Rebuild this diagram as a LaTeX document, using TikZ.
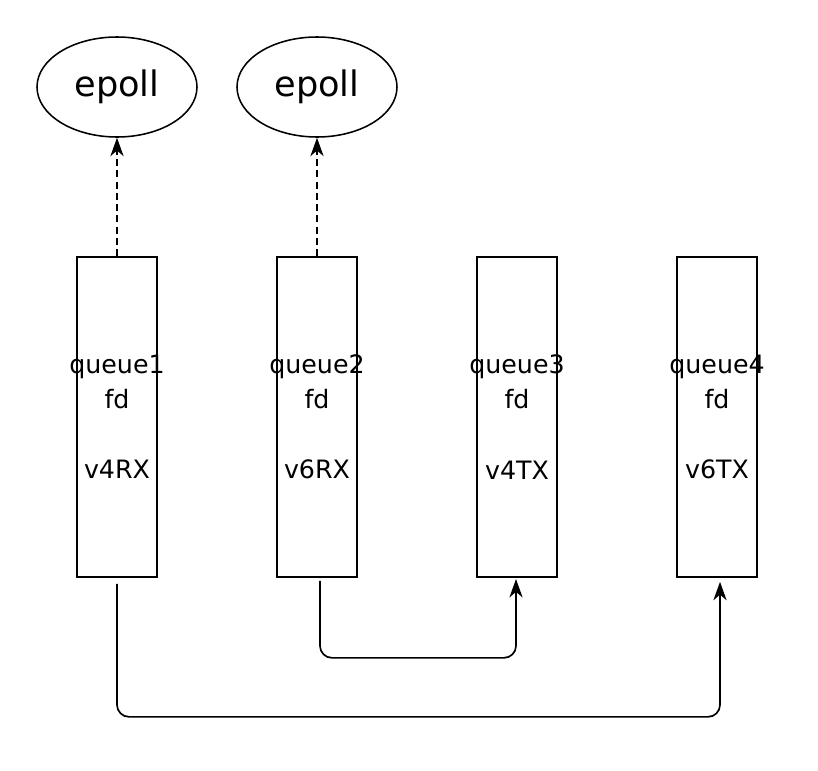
\documentclass[tikz,border=0pt]{standalone}
\usepackage{fontspec}
\setmainfont{DejaVu Sans}
\usetikzlibrary{arrows.meta,shapes.geometric}
\newcommand{\qline}[1]{\makebox[0pt]{#1}}

\tikzset{
  queuebox/.style={draw,line width=1.2pt,rectangle,minimum width=2cm,minimum height=8cm,
                   inner sep=0pt,align=center,font=\fontsize{18}{25}\selectfont},
  epollnode/.style={draw,line width=1.1pt,ellipse,minimum width=4cm,minimum height=2.5cm,
                    inner sep=0pt,font=\fontsize{25}{29}\selectfont},
  notify/.style={line width=1.2pt,dash pattern=on 5pt off 3pt,-{Stealth[length=4.6mm,width=3.3mm,inset=1.4mm]}},
  forward/.style={line width=1.2pt,rounded corners=0.3cm,-{Stealth[length=4.6mm,width=3.3mm,inset=1.4mm]}}
}

\begin{document}
\begin{tikzpicture}[>=Stealth]
  \useasboundingbox (0,0) rectangle (20.45,-19.25);
  % queues
  \node[queuebox] (q1) at (2.925,-10.425) {\qline{queue1}\\\qline{fd}\\[25pt]\qline{v4RX}};
  \node[queuebox] (q2) at (7.925,-10.425) {\qline{queue2}\\\qline{fd}\\[25pt]\qline{v6RX}};
  \node[queuebox] (q3) at (12.925,-10.425) {\qline{queue3}\\\qline{fd}\\[25pt]\qline{v4TX}};
  \node[queuebox] (q4) at (17.925,-10.425) {\qline{queue4}\\\qline{fd}\\[25pt]\qline{v6TX}};
  % epoll instances
  \node[epollnode] (e1) at (2.925,-2.175) {epoll};
  \node[epollnode] (e2) at (7.925,-2.175) {epoll};
  % rx queues notify epoll
  \draw[notify] (q1.north) -- (e1.south);
  \draw[notify] (q2.north) -- (e2.south);
  % rx to tx
  \draw[forward] ([xshift=0.075cm,yshift=-0.075cm]q2.south) -- ++(0,-1.925)
      -| ([xshift=-0.025cm,yshift=-0.03cm]q3.south);
  \draw[forward] ([yshift=-0.15cm]q1.south) -- ++(0,-3.325)
      -| ([xshift=0.075cm,yshift=-0.1cm]q4.south);
\end{tikzpicture}
\end{document}
